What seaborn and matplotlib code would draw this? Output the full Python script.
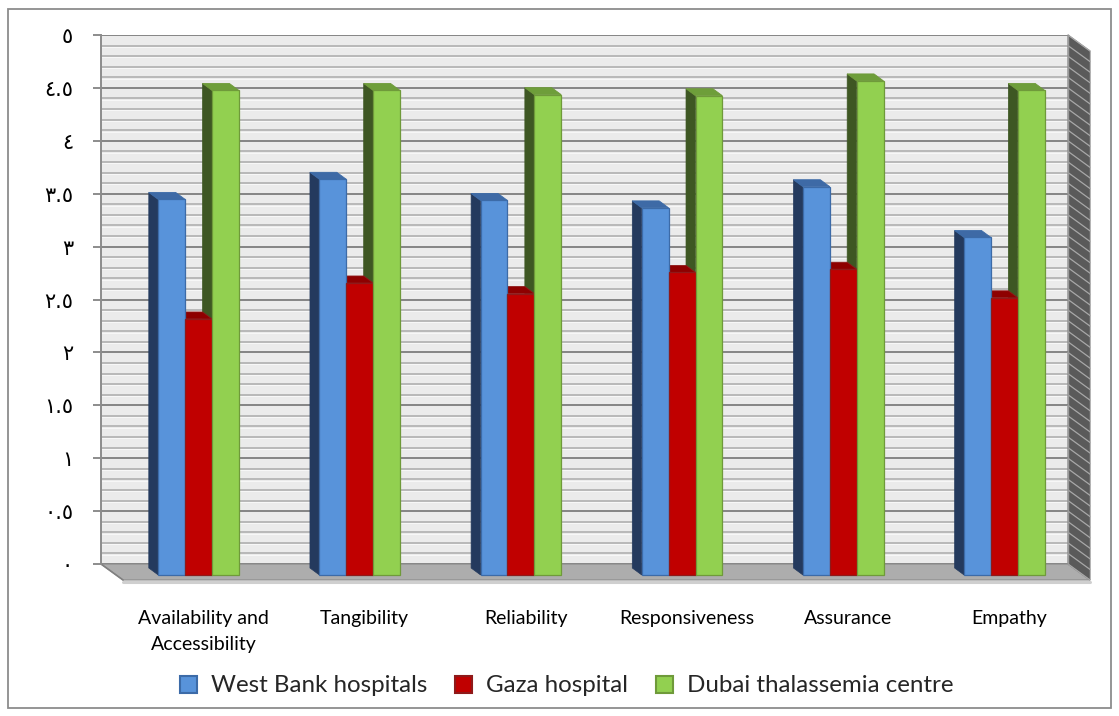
import numpy as np
import pandas as pd
import matplotlib
matplotlib.use("Agg")
import matplotlib.pyplot as plt
import matplotlib.transforms as mtransforms
from matplotlib.patches import Polygon, Rectangle, Patch
from matplotlib.lines import Line2D
import seaborn as sns

# ---- data -------------------------------------------------------------
categories = ["Availability and\nAccessibility", "Tangibility", "Reliability",
              "Responsiveness", "Assurance", "Empathy"]
series_names = ["West Bank hospitals", "Gaza hospital", "Dubai thalassemia centre"]
west_bank = [3.55, 3.74, 3.54, 3.47, 3.67, 3.19]
gaza = [2.42, 2.76, 2.66, 2.86, 2.89, 2.62]
dubai = [4.58, 4.58, 4.54, 4.53, 4.67, 4.58]
y_ticks = [0, 0.5, 1, 1.5, 2, 2.5, 3, 3.5, 4, 4.5, 5]
y_tick_labels = ["٠", "٠.٥", "١", "١.٥", "٢", "٢.٥", "٣", "٣.٥", "٤", "٤.٥", "٥"]

# ---- styling ----------------------------------------------------------
front_colors = ["#5893DA", "#C00000", "#92D050"]
edge_colors = ["#3C6BA8", "#8E1A1A", "#6F9A3A"]
side_colors = ["#243A5E", "#6E0000", "#3E5723"]
top_colors = ["#3E6AA6", "#8E0000", "#6E9E3A"]

sns.set_style("white")
plt.rcParams["font.family"] = ["Lato", "DejaVu Sans"]

DPI = 100
W, H = 1119, 716
fig = plt.figure(figsize=(W / DPI, H / DPI), dpi=DPI)

# back wall of the 3-D box, in pixels
wall_l, wall_r, wall_t, wall_b = 101, 1068, 35, 564
ax = fig.add_axes([wall_l / W, (H - wall_b) / H, (wall_r - wall_l) / W, (wall_b - wall_t) / H])
ax.set_xlim(-0.5, len(categories) - 0.5)
ax.set_ylim(0, 5)
ax.set_facecolor("#EBEBEB")

df = pd.DataFrame({
    "category": np.repeat(categories, 3),
    "site": series_names * len(categories),
    "score": np.ravel(np.column_stack([west_bank, gaza, dubai])),
})

sns.barplot(data=df, x="category", y="score", hue="site", hue_order=series_names,
            order=categories, palette=front_colors, saturation=1, width=0.5,
            ax=ax, legend=False, errorbar=None, zorder=4)

# pixel sizes of one data unit
o = ax.transData.transform((0, 0))
ppx = ax.transData.transform((1, 0))[0] - o[0]
ppy = ax.transData.transform((0, 1))[1] - o[1]

# oblique projection offsets (pixels, display y upward)
bar_shift = (17, -11)     # bar front faces relative to the back wall
bar_depth = (-9.5, 7)     # back face relative to front face
floor_depth = (22, -16)   # front edge of the floor relative to the wall

shift_tr = ax.transData + mtransforms.ScaledTranslation(
    bar_shift[0] / DPI, bar_shift[1] / DPI, fig.dpi_scale_trans)
ddx, ddy = bar_depth[0] / ppx, bar_depth[1] / ppy

n = len(categories)
for i, p in enumerate(list(ax.patches)):
    k = i // n
    x0, w, h = p.get_x(), p.get_width(), p.get_height()
    x1 = x0 + w
    p.set_transform(shift_tr)
    p.set_clip_on(False)
    p.set_edgecolor(edge_colors[k])
    p.set_linewidth(0.9)
    p.set_zorder(4)
    side = Polygon([(x0, 0), (x0, h), (x0 + ddx, h + ddy), (x0 + ddx, ddy)],
                   closed=True, facecolor=side_colors[k], edgecolor=side_colors[k],
                   lw=0.5, transform=shift_tr, clip_on=False, zorder=3)
    top = Polygon([(x0, h), (x1, h), (x1 + ddx, h + ddy), (x0 + ddx, h + ddy)],
                  closed=True, facecolor=top_colors[k], edgecolor=edge_colors[k],
                  lw=0.6, transform=shift_tr, clip_on=False, zorder=3.5)
    ax.add_patch(side)
    ax.add_patch(top)

# gridlines on the back wall
for v in np.round(np.arange(0, 5.001, 0.1), 1):
    major = abs(v * 2 - round(v * 2)) < 1e-6
    ax.axhline(v, color="#858585" if major else "#B0B0B0",
               lw=1.4 if major else 1.2, zorder=1)
    if not major:
        ax.axhline(v - 1.3 / ppy, color="#FAFAFA", lw=0.6, zorder=1)

# floor
fdx, fdy = floor_depth[0] / ppx, floor_depth[1] / ppy
xa, xb = -0.5, n - 0.5
floor = Polygon([(xa, 0), (xb, 0), (xb + fdx, fdy), (xa + fdx, fdy)], closed=True,
                facecolor="#ADADAD", edgecolor="#8A8A8A", lw=0.8, clip_on=False, zorder=2)
ax.add_patch(floor)
ax.add_line(Line2D([xa + fdx, xb + fdx], [fdy - 1.5 / ppy] * 2, color="#CFCFCF",
                   lw=2.2, clip_on=False, zorder=2))
ax.add_line(Line2D([xa, xa + fdx], [0, fdy], color="#808080", lw=1.2,
                   clip_on=False, zorder=2))

# right-hand side wall with its grid
side_wall = Polygon([(xb, 0), (xb, 5), (xb + fdx, 5 + fdy), (xb + fdx, fdy)], closed=True,
                    facecolor="#5A5A5A", edgecolor="#7A7A7A", lw=0.8, clip_on=False, zorder=2)
ax.add_patch(side_wall)
for v in np.round(np.arange(0, 5.001, 0.1), 1):
    ax.add_line(Line2D([xb, xb + fdx], [v, v + fdy], color="#A8A8A8", lw=0.9,
                       clip_on=False, zorder=2.1))

# axes decoration
for s in ["top", "bottom"]:
    ax.spines[s].set_visible(False)
ax.spines["left"].set_color("#8C8C8C")
ax.spines["left"].set_linewidth(1.4)
ax.spines["right"].set_color("#9A9A9A")
ax.spines["right"].set_linewidth(1.0)

ax.set_yticks(y_ticks, labels=y_tick_labels)
ax.tick_params(axis="y", length=6, width=1.4, color="#8C8C8C", pad=14,
               labelsize=15, labelcolor="black", left=True)
for lab in ax.get_yticklabels():
    lab.set_family(["DejaVu Sans"])

ax.set_xticks(range(n), labels=categories)
ax.tick_params(axis="x", length=0, pad=33, labelsize=14, labelcolor="black")
lab_shift = mtransforms.ScaledTranslation(floor_depth[0] / DPI, 0, fig.dpi_scale_trans)
for lab in ax.get_xticklabels():
    lab.set_transform(lab.get_transform() + lab_shift)
    lab.set_linespacing(1.65)
ax.set_xlabel("")
ax.set_ylabel("")

# legend
handles = [Patch(facecolor=front_colors[k], edgecolor=edge_colors[k], lw=1.5)
           for k in range(3)]
fig.legend(handles, series_names, loc="center", bbox_to_anchor=(567 / W, 1 - 686 / H),
           ncol=3, frameon=False, fontsize=17.4, handlelength=0.7, handleheight=0.7,
           handletextpad=0.58, columnspacing=1.15)

# chart border
fig.add_artist(Rectangle((8 / W, 1 - 708 / H), (1111 - 8) / W, (708 - 9) / H,
                         transform=fig.transFigure, fill=False, edgecolor="#8C8C8C",
                         lw=1.3))

fig.savefig("out.png", dpi=DPI, facecolor="white")
